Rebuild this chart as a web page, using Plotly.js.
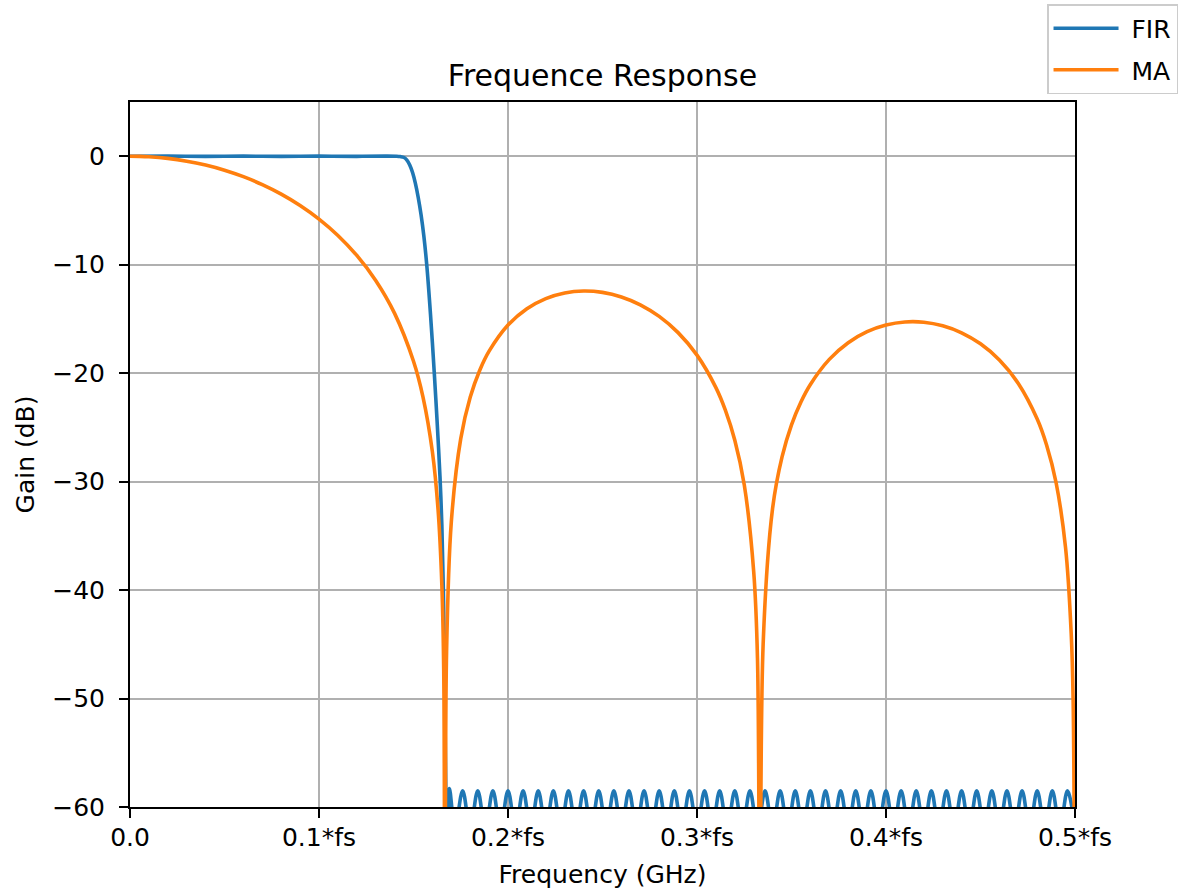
<!DOCTYPE html>
<html>
<head>
<meta charset="utf-8">
<script src="https://cdn.plot.ly/plotly-3.0.1.min.js"></script>
<style>
  html, body { margin: 0; padding: 0; background: #ffffff; }
  #chart { width: 1181px; height: 890px; }
</style>
</head>
<body>
<div id="chart"></div>
<script>
// ---- Data ----
// Axis ticks
var xTickVals = [0.0, 0.1, 0.2, 0.3, 0.4, 0.5];
var xTickText = ["0.0", "0.1*fs", "0.2*fs", "0.3*fs", "0.4*fs", "0.5*fs"];
var yTickVals = [0, -10, -20, -30, -40, -50, -60];
var yTickText = ["0", "\u221210", "\u221220", "\u221230", "\u221240", "\u221250", "\u221260"];

// FIR: passband and transition band (normalised frequency, dB)
var firPassFreq = [0.000, 0.020, 0.040, 0.060, 0.080, 0.100, 0.120, 0.135, 0.141, 0.1430, 0.1450, 0.1465, 0.1480, 0.1495, 0.1510, 0.1525, 0.1540, 0.1555, 0.1570, 0.1590, 0.1610, 0.1625, 0.1640, 0.1650, 0.1658, 0.1665, 0.1672, 0.1678];
var firPassGain = [0.00, 0.01, -0.01, 0.01, -0.01, 0.01, -0.01, 0.01, 0.00, -0.03, -0.12, -0.35, -0.80, -1.50, -2.50, -3.80, -5.40, -7.40, -10.0, -14.6, -20.0, -24.5, -29.5, -34.0, -40.0, -48.0, -60.0, -63.0];

// FIR: stopband ripple (peaks and troughs)
var firStopFreq = [0.1690, 0.1720, 0.1760, 0.1800, 0.1840, 0.1880, 0.1920, 0.1960, 0.2000, 0.2040, 0.2080, 0.2120, 0.2160, 0.2200, 0.2240, 0.2280, 0.2320, 0.2360, 0.2400, 0.2440, 0.2480, 0.2520, 0.2560, 0.2600, 0.2640, 0.2680, 0.2720, 0.2760, 0.2800, 0.2840, 0.2880, 0.2920, 0.2960, 0.3000, 0.3040, 0.3080, 0.3120, 0.3160, 0.3200, 0.3240, 0.3280, 0.3320, 0.3360, 0.3400, 0.3440, 0.3480, 0.3520, 0.3560, 0.3600, 0.3640, 0.3680, 0.3720, 0.3760, 0.3800, 0.3840, 0.3880, 0.3920, 0.3960, 0.4000, 0.4040, 0.4080, 0.4120, 0.4160, 0.4200, 0.4240, 0.4280, 0.4320, 0.4360, 0.4400, 0.4440, 0.4480, 0.4520, 0.4560, 0.4600, 0.4640, 0.4680, 0.4720, 0.4760, 0.4800, 0.4840, 0.4880, 0.4920, 0.4960, 0.5000];
var firStopGain = [-58.3, -62.0, -58.5, -62.0, -58.5, -62.0, -58.5, -62.0, -58.5, -62.0, -58.5, -62.0, -58.5, -62.0, -58.5, -62.0, -58.5, -62.0, -58.5, -62.0, -58.5, -62.0, -58.5, -62.0, -58.5, -62.0, -58.5, -62.0, -58.5, -62.0, -58.5, -62.0, -58.5, -62.0, -58.5, -62.0, -58.5, -62.0, -58.5, -62.0, -58.5, -62.0, -58.5, -62.0, -58.5, -62.0, -58.5, -62.0, -58.5, -62.0, -58.5, -62.0, -58.5, -62.0, -58.5, -62.0, -58.5, -62.0, -58.5, -62.0, -58.5, -62.0, -58.5, -62.0, -58.5, -62.0, -58.5, -62.0, -58.5, -62.0, -58.5, -62.0, -58.5, -62.0, -58.5, -62.0, -58.5, -62.0, -58.5, -62.0, -58.5, -62.0, -58.5, -62.0];

// MA (moving average) response
var maFreq = [0.000, 0.005, 0.010, 0.020, 0.030, 0.040, 0.050, 0.060, 0.070, 0.080, 0.090, 0.100, 0.110, 0.120, 0.130, 0.140, 0.150, 0.155, 0.160, 0.163, 0.165, 0.166, 0.16667, 0.1675, 0.170, 0.175, 0.180, 0.185, 0.190, 0.200, 0.210, 0.220, 0.230, 0.240, 0.250, 0.260, 0.270, 0.280, 0.290, 0.300, 0.310, 0.315, 0.320, 0.325, 0.330, 0.332, 0.33333, 0.335, 0.340, 0.345, 0.350, 0.355, 0.360, 0.370, 0.380, 0.390, 0.400, 0.410, 0.420, 0.430, 0.440, 0.450, 0.460, 0.470, 0.480, 0.485, 0.490, 0.495, 0.498, 0.499, 0.500];
var maGain = [0.000, -0.013, -0.050, -0.201, -0.455, -0.816, -1.291, -1.886, -2.615, -3.493, -4.543, -5.798, -7.307, -9.148, -11.453, -14.490, -18.904, -22.191, -27.258, -32.582, -39.52, -47.53, -80.0, -45.66, -33.742, -26.038, -22.230, -19.757, -17.975, -15.563, -14.057, -13.121, -12.603, -12.426, -12.553, -12.972, -13.698, -14.768, -16.263, -18.338, -21.331, -23.408, -26.180, -30.291, -38.303, -46.29, -80.0, -44.97, -32.455, -27.716, -24.761, -22.650, -21.038, -18.729, -17.195, -16.180, -15.563, -15.280, -15.303, -15.629, -16.276, -17.296, -18.786, -20.944, -24.226, -26.641, -30.104, -36.089, -44.04, -50.06, -80.0];

var seriesNames = ["\u00a0FIR", "\u00a0MA"];
var seriesColors = ["#1f77b4", "#ff7f0e"];

// ---- Build chart ----
var FONT = "DejaVu Sans, Liberation Sans, sans-serif";

var fir = {
  x: firPassFreq.concat(firStopFreq),
  y: firPassGain.concat(firStopGain),
  type: "scatter",
  mode: "lines",
  name: seriesNames[0],
  line: { color: seriesColors[0], width: 3.6, shape: "spline", smoothing: 1 },
  legendgroup: "a",
  hoverinfo: "x+y"
};
var ma = {
  x: maFreq,
  y: maGain,
  type: "scatter",
  mode: "lines",
  name: seriesNames[1],
  line: { color: seriesColors[1], width: 3.6, shape: "spline", smoothing: 1 },
  legendgroup: "b",
  hoverinfo: "x+y"
};

var layout = {
  width: 1181,
  height: 890,
  paper_bgcolor: "#ffffff",
  plot_bgcolor: "#ffffff",
  font: { family: FONT, size: 25, color: "#000000" },
  margin: { l: 130, r: 106, t: 102, b: 83, pad: 0, autoexpand: false },
  title: {
    text: "Frequence Response",
    font: { family: FONT, size: 30, color: "#000000" },
    x: 0.5, xref: "paper", xanchor: "center",
    y: 0.9157, yref: "container", yanchor: "middle"
  },
  xaxis: {
    range: [0, 0.5],
    tickmode: "array",
    tickvals: xTickVals,
    ticktext: xTickText,
    ticks: "outside",
    ticklen: 9,
    tickwidth: 2,
    tickcolor: "#000000",
    ticklabelstandoff: -2,
    showline: true,
    mirror: true,
    linecolor: "#000000",
    linewidth: 2,
    showgrid: true,
    gridcolor: "#b0b0b0",
    gridwidth: 2,
    zeroline: false,
    tickfont: { family: FONT, size: 25, color: "#000000" },
    title: { text: "Frequency (GHz)", font: { family: FONT, size: 25, color: "#000000" }, standoff: 14 }
  },
  yaxis: {
    range: [-60, 5],
    tickmode: "array",
    tickvals: yTickVals,
    ticktext: yTickText,
    ticks: "outside",
    ticklen: 9,
    tickwidth: 2,
    tickcolor: "#000000",
    ticklabelstandoff: 9,
    showline: true,
    mirror: true,
    linecolor: "#000000",
    linewidth: 2,
    showgrid: true,
    gridcolor: "#b0b0b0",
    gridwidth: 2,
    zeroline: false,
    tickfont: { family: FONT, size: 25, color: "#000000" },
    title: { text: "Gain (dB)", font: { family: FONT, size: 25, color: "#000000" }, standoff: 10 }
  },
  showlegend: true,
  legend: {
    x: 0.9704, xanchor: "left",
    y: 1.139, yanchor: "top",
    xref: "paper", yref: "paper",
    orientation: "v",
    traceorder: "grouped",
    tracegroupgap: 6,
    itemwidth: 65,
    bgcolor: "rgba(255,255,255,0.8)",
    bordercolor: "#cccccc",
    borderwidth: 1.5,
    font: { family: FONT, size: 25, color: "#000000" }
  }
};

Plotly.newPlot("chart", [fir, ma], layout, { displayModeBar: false, responsive: false, staticPlot: true });
</script>
</body>
</html>
